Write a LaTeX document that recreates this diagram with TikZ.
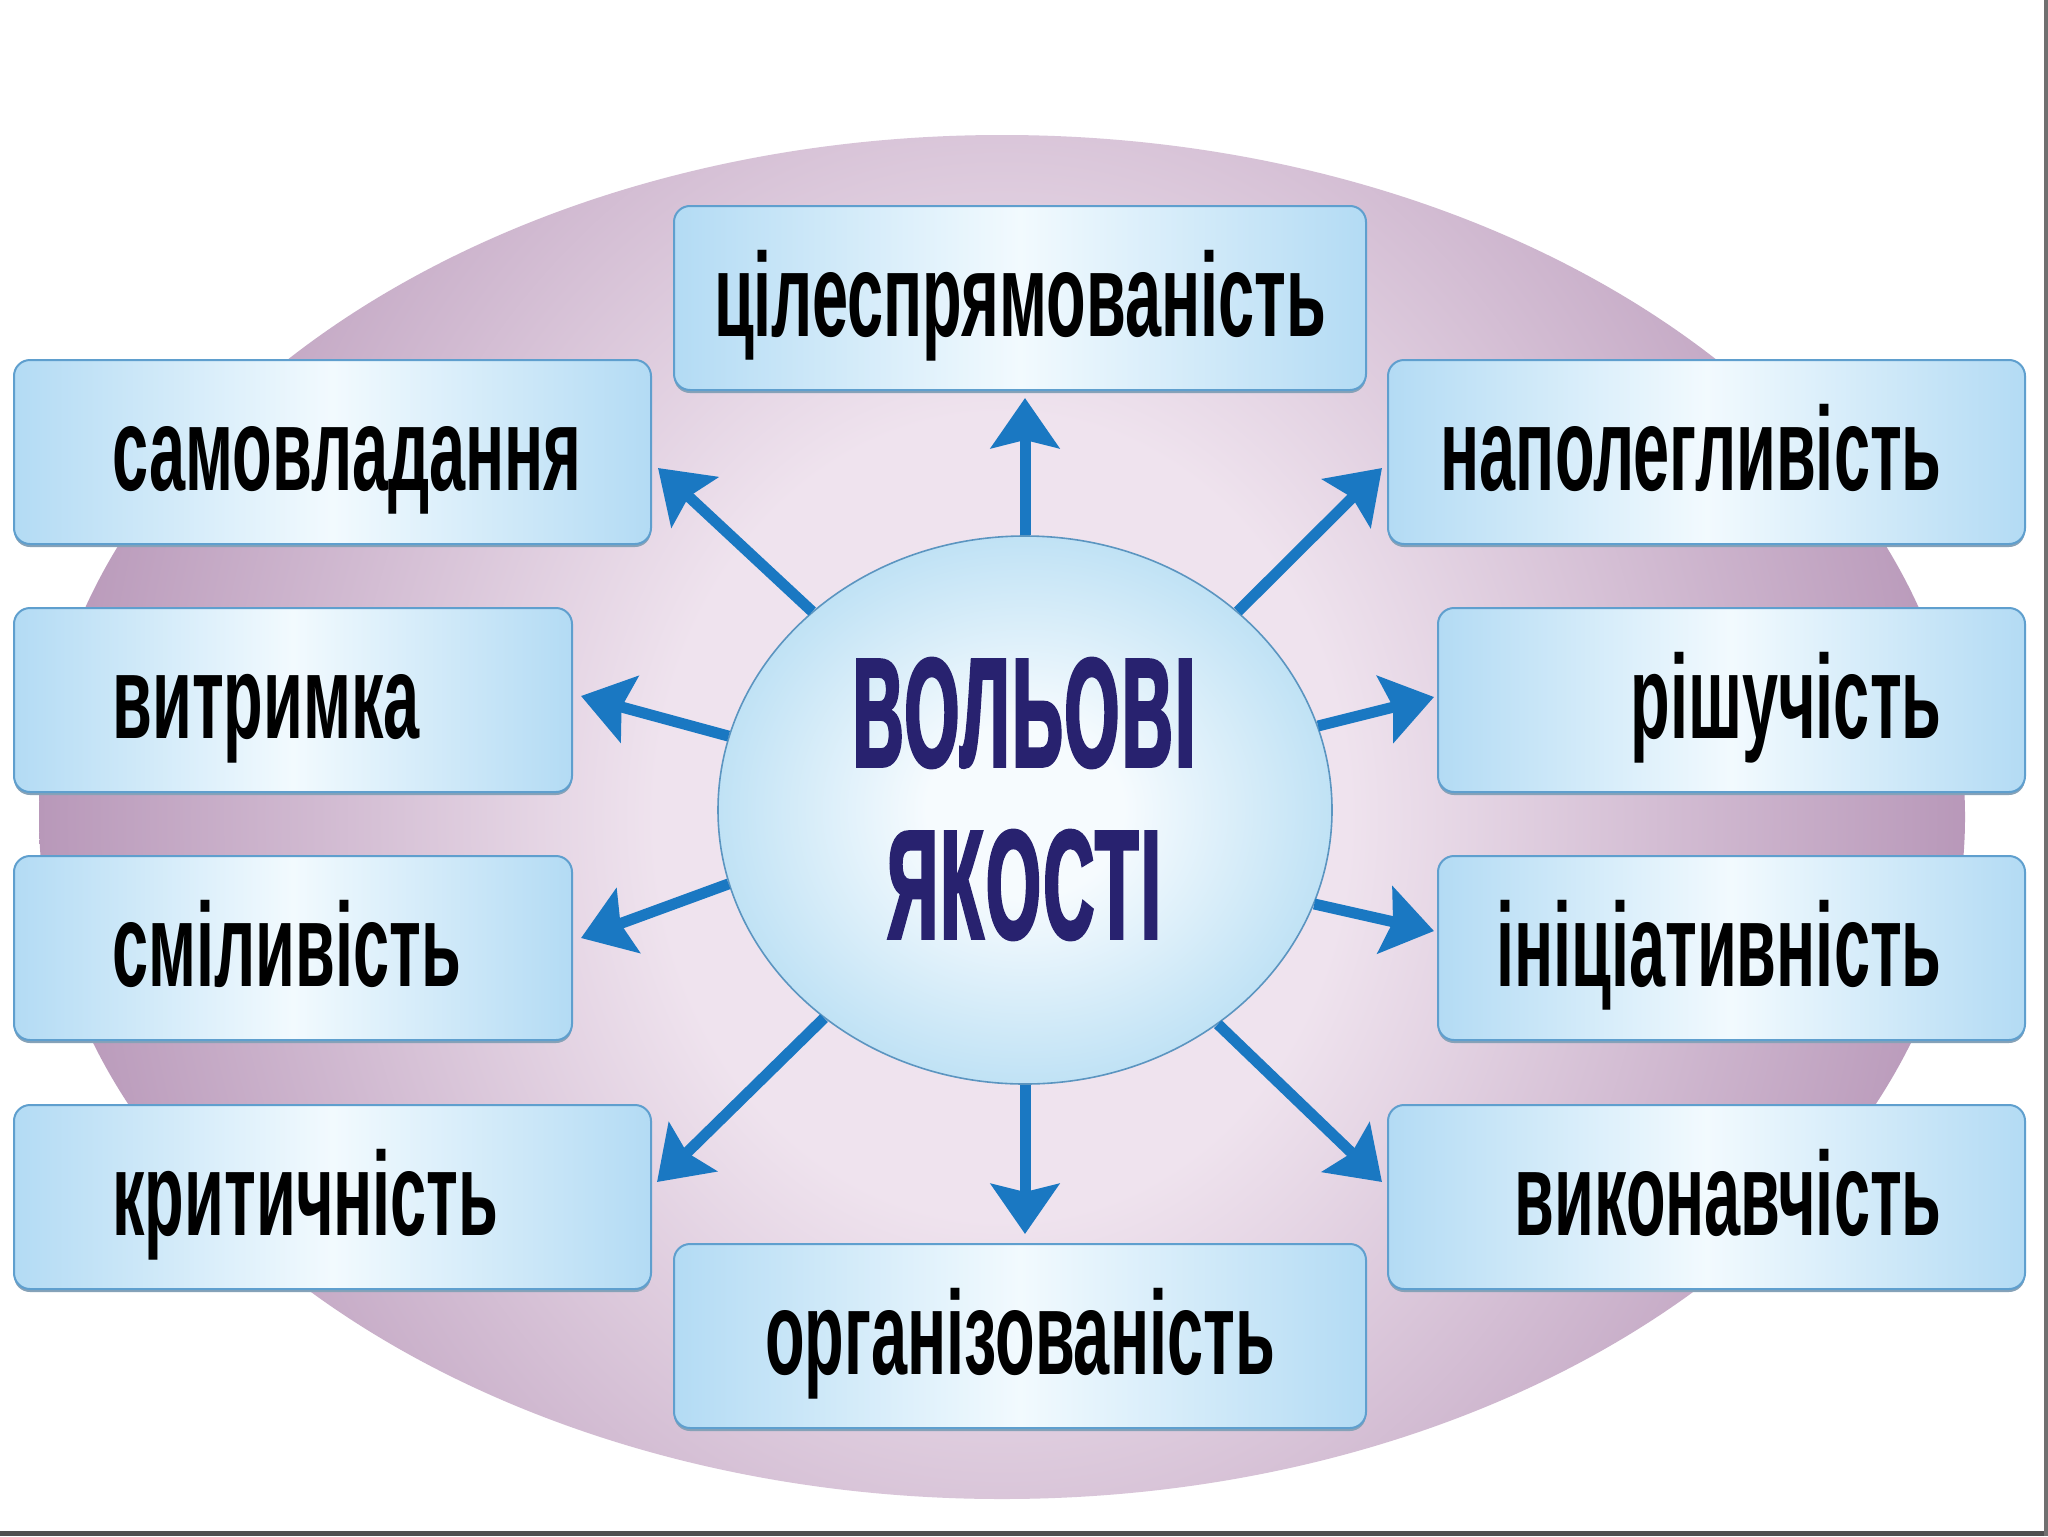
\documentclass[tikz,border=0pt]{standalone}
\usepackage{fontspec}
\usetikzlibrary{arrows.meta,shapes.geometric,shadows}
\newfontfamily\boxfont{Liberation Sans}[FakeStretch=0.545]
\newfontfamily\titlefont{Liberation Sans}[FakeStretch=0.45,FakeBold=2,LetterSpace=2]
\definecolor{boxedge}{HTML}{B3DBF4}
\definecolor{boxmid}{HTML}{F2FAFE}
\definecolor{boxline}{HTML}{5F9FCE}
\definecolor{shadowc}{HTML}{86A2B8}
\definecolor{circin}{HTML}{F6FBFE}
\definecolor{circout}{HTML}{C0E2F5}
\definecolor{circline}{HTML}{5B95C0}
\definecolor{arrowblue}{HTML}{1A78C2}
\definecolor{navy}{HTML}{28226F}
\definecolor{ellin}{HTML}{EFE3EE}
\definecolor{ellout}{HTML}{B898B9}
\definecolor{bordergray}{HTML}{505050}
\definecolor{bordergray2}{HTML}{707070}
\pgfdeclareradialshading{ellsh}{\pgfpoint{0bp}{0bp}}{color(0bp)=(ellin); color(9bp)=(ellin); color(25bp)=(ellout); color(50bp)=(ellout)}
\pgfdeclareradialshading{circsh}{\pgfpoint{0bp}{0bp}}{color(0bp)=(circin); color(8bp)=(circin); color(25bp)=(circout); color(50bp)=(circout)}
\tikzset{
  qbox/.style={draw=boxline, line width=1pt, rounded corners=8pt,
    left color=boxedge, right color=boxedge, middle color=boxmid,
    minimum height=92pt, inner sep=0pt, anchor=north west,
    drop shadow={shadow xshift=0pt, shadow yshift=-1.5pt, fill=shadowc, opacity=1}},
  qtext/.style={inner sep=0pt, text=black,
    font=\boxfont\bfseries\fontsize{59.5}{60}\selectfont},
  ltext/.style={qtext, anchor=base west},
  rtext/.style={qtext, anchor=base east},
  ctext/.style={qtext, anchor=base},
  arr/.style={draw=arrowblue, line width=5.5pt,
    -{Stealth[length=25pt, width=34pt, inset=4pt]}},
}
\begin{document}
\begin{tikzpicture}[x=0.5pt,y=-0.5pt]
\useasboundingbox (0,0) rectangle (2048,1536);
\fill[white] (0,0) rectangle (2048,1536);
% background ellipse
\begin{scope}
  \clip (1002,817) ellipse [x radius=963, y radius=682];
  \shade[shading=ellsh] (39,-300) rectangle (1965,1934);
\end{scope}
% frame lines
\fill[bordergray] (0,1531) rectangle (2048,1536);
\fill[bordergray2] (2044,0) rectangle (2048,1536);
% boxes
\node[qbox, minimum width=346pt]   (b1)  at (673,205)  {};
\node[qbox, minimum width=318.5pt] (b2)  at (13,359)   {};
\node[qbox, minimum width=318.5pt] (b3)  at (1387,359) {};
\node[qbox, minimum width=279pt]   (b4)  at (13,607)   {};
\node[qbox, minimum width=293.5pt] (b5)  at (1437,607) {};
\node[qbox, minimum width=279pt]   (b6)  at (13,855)   {};
\node[qbox, minimum width=293.5pt] (b7)  at (1437,855) {};
\node[qbox, minimum width=318.5pt] (b8)  at (13,1104)  {};
\node[qbox, minimum width=318.5pt] (b9)  at (1387,1104) {};
\node[qbox, minimum width=346pt]   (b10) at (673,1243) {};
% texts
\node[ctext] (t1)  at ([yshift=-19pt]b1.center) {цілеспрямованість};
\node[ltext] (t2)  at ([xshift=49.5pt,yshift=-19pt]b2.west) {самовладання};
\node[rtext] (t3)  at ([xshift=-42pt,yshift=-19pt]b3.east) {наполегливість};
\node[ltext] (t4)  at ([xshift=49.5pt,yshift=-19pt]b4.west) {витримка};
\node[rtext] (t5)  at ([xshift=-42pt,yshift=-19pt]b5.east) {рішучість};
\node[ltext] (t6)  at ([xshift=49.5pt,yshift=-19pt]b6.west) {сміливість};
\node[rtext] (t7)  at ([xshift=-42pt,yshift=-19pt]b7.east) {ініціативність};
\node[ltext] (t8)  at ([xshift=49.5pt,yshift=-19pt]b8.west) {критичність};
\node[rtext] (t9)  at ([xshift=-42pt,yshift=-19pt]b9.east) {виконавчість};
\node[ctext] (t10) at ([yshift=-19pt]b10.center) {організованість};
% centre
\node[ellipse, draw=circline, line width=0.8pt, shade, shading=circsh,
  minimum width=307pt, minimum height=274pt, inner sep=0pt] (c) at (1025,810) {};
\node[align=center, inner sep=0pt, text=navy,
  font=\titlefont\bfseries\fontsize{77.5}{86}\selectfont]
  (title) at (1024,799) {ВОЛЬОВІ\\ЯКОСТІ};
% arrow tips
\coordinate (tU)  at (1025,398);
\coordinate (tUL) at (658,468);
\coordinate (tUR) at (1382,468);
\coordinate (tL1) at (581,696);
\coordinate (tR1) at (1434,697);
\coordinate (tL2) at (581,938);
\coordinate (tR2) at (1434,931);
\coordinate (tDL) at (657,1182);
\coordinate (tDR) at (1382,1182);
\coordinate (tD)  at (1025,1234);
\draw[arr] (c.90)    -- (tU);
\draw[arr] (c.137.7) -- (tUL);
\draw[arr] (c.43.6)  -- (tUR);
\draw[arr] (c.166.3) -- (tL1);
\draw[arr] (c.16)    -- (tR1);
\draw[arr] (c.194.6) -- (tL2);
\draw[arr] (c.342.6) -- (tR2);
\draw[arr] (c.226)   -- (tDL);
\draw[arr] (c.312.5) -- (tDR);
\draw[arr] (c.270)   -- (tD);
\end{tikzpicture}
\end{document}
